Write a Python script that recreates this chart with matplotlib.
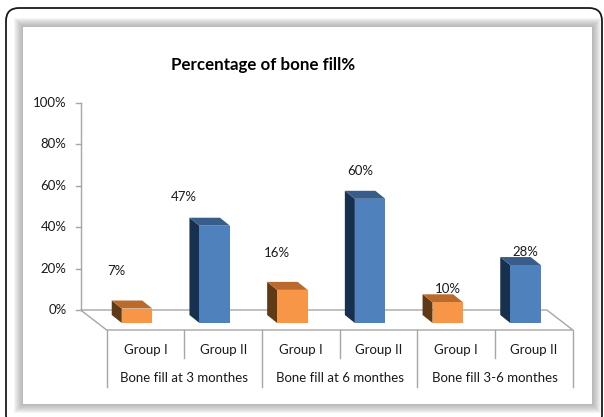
import numpy as np
import matplotlib
matplotlib.use("Agg")
import matplotlib.pyplot as plt
from matplotlib.patches import Polygon, Rectangle, FancyBboxPatch

plt.rcParams['font.family'] = ['Lato', 'DejaVu Sans']

# data
groups = ["Group I", "Group II", "Group I", "Group II", "Group I", "Group II"]
periods = ["Bone fill at 3 monthes", "Bone fill at 6 monthes", "Bone fill 3-6 monthes"]
values = [7, 47, 16, 60, 10, 28]
labels = ["7%", "47%", "16%", "60%", "10%", "28%"]
yticks = [0, 20, 40, 60, 80, 100]

# label placement (Excel 3D style, offset in pixels from bar top)
label_dx = [-21, -31, -15, -10, 0, 0]
label_dy = [38, 29, 37, 28, 13, 13]

W, H = 604, 417
fig = plt.figure(figsize=(W / 100, H / 100), dpi=100)

# background: frame, panel, shadow (pixel coords)
bg = fig.add_axes([0, 0, 1, 1])
bg.set_xlim(0, W)
bg.set_ylim(H, 0)
bg.axis('off')
bg.add_patch(FancyBboxPatch((6, 8), 596, 420, boxstyle="round,pad=0,rounding_size=13",
                            facecolor='white', edgecolor='#1a1a1a', linewidth=1.3))
px0, py0, px1, py1 = 23, 27, 592, 404
for k in range(9, 0, -1):
    bg.add_patch(Rectangle((px0 - k, py0 - k), (px1 - px0) + 2 * k, (py1 - py0) + 2 * k,
                           facecolor='#808080', edgecolor='none', alpha=0.08))
bg.add_patch(Rectangle((px0, py0), px1 - px0, py1 - py0, facecolor='white', edgecolor='none'))

# chart axes: x in category units, y in percent on the back wall
cat_px = 77.7     # pixels per category
pct_px = 2.07     # pixels per percent
x_org = 145.5     # pixel x of first category centre (front edge)
y_org = 310       # pixel y of 0% on back wall
ax = fig.add_axes([0, 0, 1, 1])
ax.set_xlim((0 - x_org) / cat_px, (W - x_org) / cat_px)
ax.set_ylim((y_org - H) / pct_px, y_org / pct_px)
ax.axis('off')
ax.patch.set_alpha(0)

txt = '#1a1a1a'
n = len(values)
# floor depth (front -> back)
fdx, fdy = -26 / cat_px, 20 / pct_px
front_y = -fdy
floor = Polygon([(-0.5, front_y), (n - 0.5, front_y), (n - 0.5 + fdx, 0), (-0.5 + fdx, 0)],
                closed=True, facecolor='white', edgecolor='#a6a6a6', linewidth=1.0, zorder=1)
ax.add_patch(floor)

# y axis on back wall
xa = -0.5 + fdx
ax.plot([xa, xa], [0, 100], color='#a6a6a6', lw=1.0, zorder=1)
for t in yticks:
    ax.plot([xa - 5 / cat_px, xa], [t, t], color='#a6a6a6', lw=1.0, zorder=1)
    ax.text(xa - 14 / cat_px, t, f"{t}%", ha='right', va='center', fontsize=9.5, color=txt)

# bars
bw = 30.5 / cat_px
bshift = -8.5 / cat_px
bdx, bdy = -10 / cat_px, 8 / pct_px
base = -13 / pct_px
orange = ('#f79646', '#5f3a17', '#b96a2c')
blue = ('#4f81bd', '#17304d', '#385d8a')
for i, v in enumerate(values):
    front_c, side_c, top_c = orange if i % 2 == 0 else blue
    xl = i + bshift - bw / 2
    xr = xl + bw
    top = base + v
    ax.add_patch(Polygon([(xl, base), (xl, top), (xl + bdx, top + bdy), (xl + bdx, base + bdy)],
                         closed=True, facecolor=side_c, edgecolor='none', zorder=3))
    ax.add_patch(Polygon([(xl, top), (xr, top), (xr + bdx, top + bdy), (xl + bdx, top + bdy)],
                         closed=True, facecolor=top_c, edgecolor='none', zorder=3))
    ax.add_patch(Rectangle((xl, base), bw, v, facecolor=front_c, edgecolor='none', zorder=3))
    ax.annotate(labels[i], (i + bshift, top), xytext=(label_dx[i], label_dy[i]),
                textcoords='offset pixels', ha='center', va='center', fontsize=9.5, color=txt)

# category table under the floor
short_y = (y_org - 358) / pct_px
long_y = (y_org - 387) / pct_px
for k in range(n + 1):
    yb = long_y if k % 2 == 0 else short_y
    ax.plot([k - 0.5, k - 0.5], [front_y, yb], color='#a6a6a6', lw=1.0, zorder=1)
for i, g in enumerate(groups):
    ax.text(i, (y_org - 350) / pct_px, g, ha='center', va='center', fontsize=9.5, color=txt)
for j, p in enumerate(periods):
    ax.text(2 * j + 0.5, (y_org - 378) / pct_px, p, ha='center', va='center', fontsize=9.5,
            color=txt)

ax.text((263.5 - x_org) / cat_px, (y_org - 65) / pct_px, "Percentage of bone fill%",
        ha='center', va='center', fontsize=12.2, fontweight='bold', color='black')

fig.savefig("out.png", dpi=100)
